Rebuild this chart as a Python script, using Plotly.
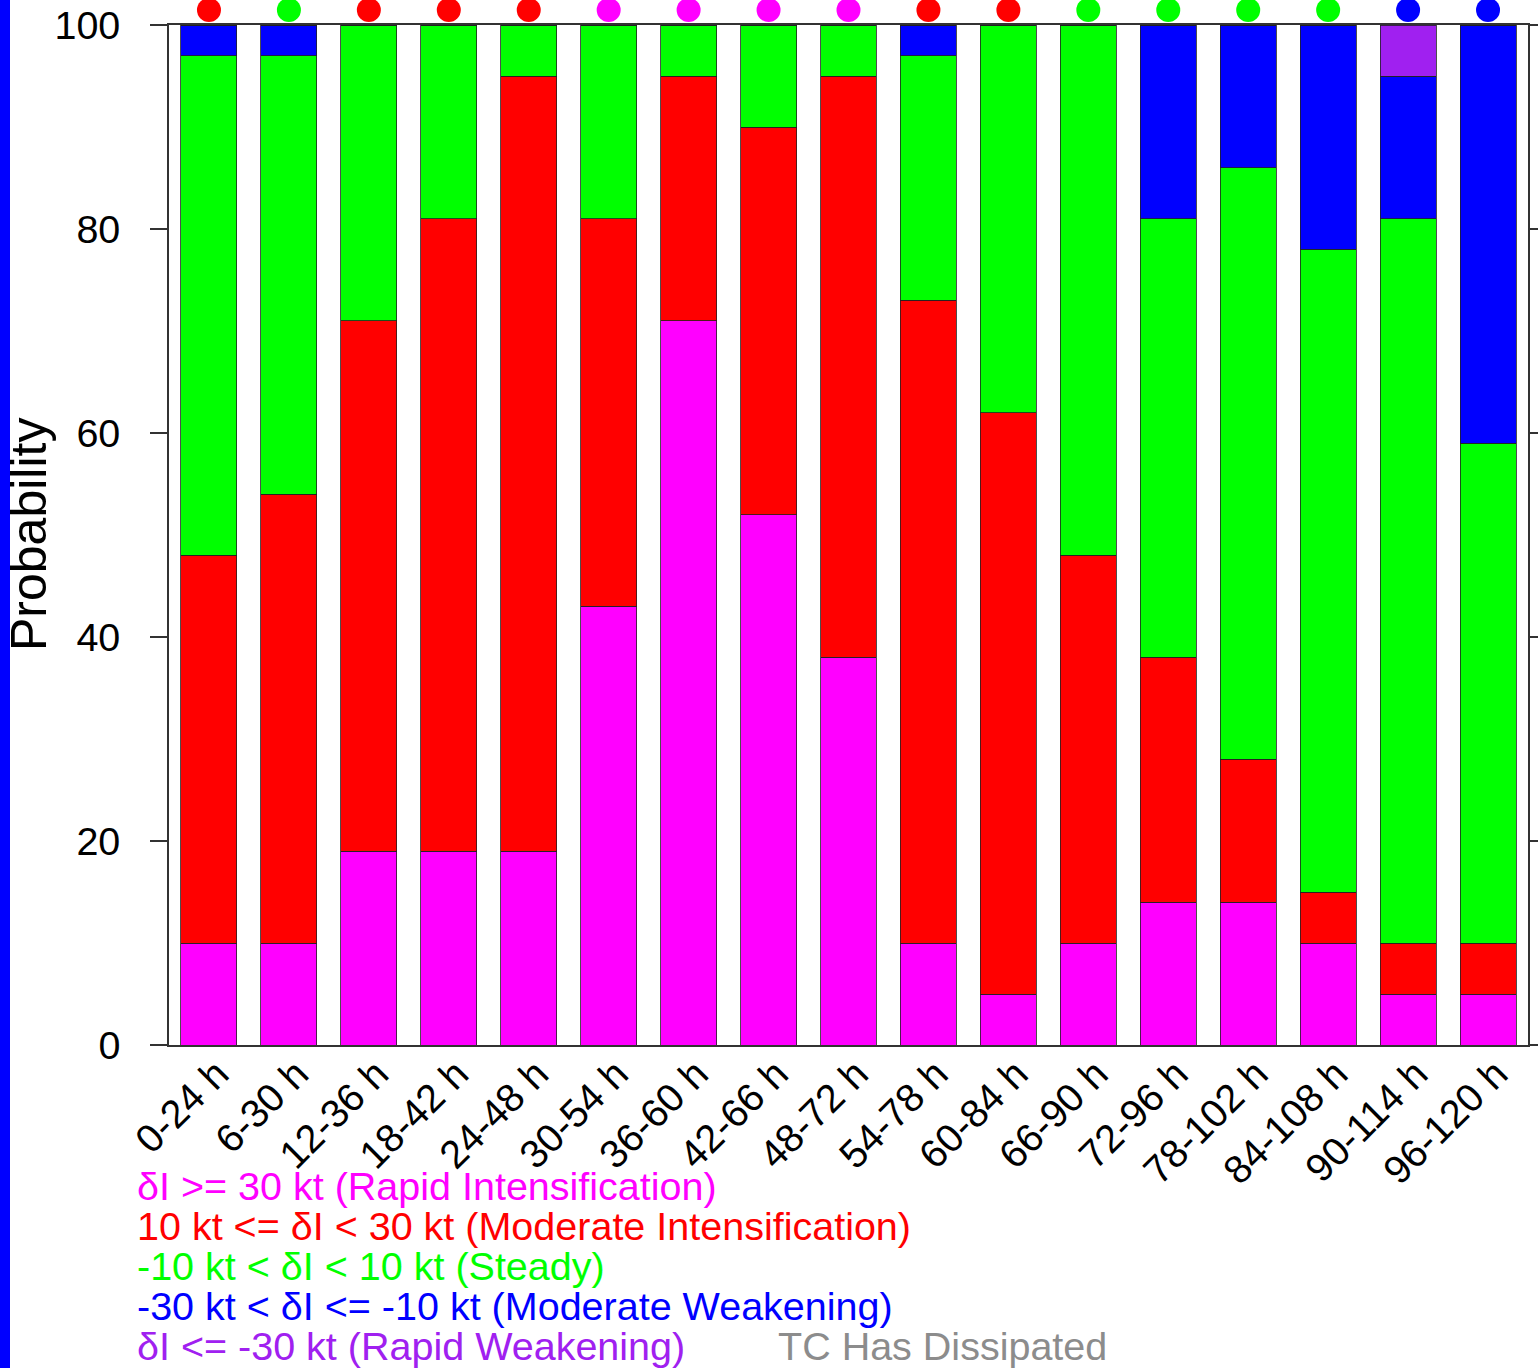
import plotly.graph_objects as go

# Forecast intensity-change probabilities (%) for each 24-h window
periods = ["0-24 h", "6-30 h", "12-36 h", "18-42 h", "24-48 h", "30-54 h",
           "36-60 h", "42-66 h", "48-72 h", "54-78 h", "60-84 h", "66-90 h",
           "72-96 h", "78-102 h", "84-108 h", "90-114 h", "96-120 h"]

rapid_int = [10, 10, 19, 19, 19, 43, 71, 52, 38, 10, 5, 10, 14, 14, 10, 5, 5]
moderate_int = [38, 44, 52, 62, 76, 38, 24, 38, 57, 63, 57, 38, 24, 14, 5, 5, 5]
steady = [49, 43, 29, 19, 5, 19, 5, 10, 5, 24, 38, 52, 43, 58, 63, 71, 49]
moderate_weak = [3, 3, 0, 0, 0, 0, 0, 0, 0, 3, 0, 0, 19, 14, 22, 14, 41]
rapid_weak = [0, 0, 0, 0, 0, 0, 0, 0, 0, 0, 0, 0, 0, 0, 0, 5, 0]

# Category marked above each bar
marked_category = ["MI", "ST", "MI", "MI", "MI", "RI", "RI", "RI", "RI", "MI",
                   "MI", "ST", "ST", "ST", "ST", "MW", "MW"]

category_colors = {"RI": "#FF00FF", "MI": "#FF0000", "ST": "#00FF00",
                   "MW": "#0000FF", "RW": "#A020F0"}

legend_lines = [
    ("δI >= 30 kt (Rapid Intensification)", category_colors["RI"]),
    ("10 kt <= δI < 30 kt (Moderate Intensification)", category_colors["MI"]),
    ("-10 kt < δI < 10 kt (Steady)", category_colors["ST"]),
    ("-30 kt < δI <= -10 kt (Moderate Weakening)", category_colors["MW"]),
    ("δI <= -30 kt (Rapid Weakening)", category_colors["RW"]),
]
dissipated_label = "TC Has Dissipated"

FONT = "Liberation Sans, Arial, Helvetica, sans-serif"
W, H = 1538, 1368
L, R, T, B = 169, 10, 0, 323
PW, PH = W - L - R, H - T - B      # plotting region (includes strip above the frame)
FRAME_TOP = 25                      # pixel row of the 100 % line
Y_DOMAIN_TOP = (PH - FRAME_TOP) / PH
Y_MAX = 100.0
DOT_Y = 101.47                      # dot row, in probability units above the frame


def px_x(x):
    return (x - L) / PW


def px_y(y):
    return (H - B - y) / PH


fig = go.Figure()

series = [(rapid_int, "RI"), (moderate_int, "MI"), (steady, "ST"),
          (moderate_weak, "MW"), (rapid_weak, "RW")]
for vals, key in series:
    fig.add_trace(go.Bar(
        x=periods, y=vals,
        marker=dict(color=category_colors[key], line=dict(color="#222222", width=0.8)),
        showlegend=False, hoverinfo="skip",
    ))

# Dots above the plot frame, on a hidden axis sharing the probability scale
fig.add_trace(go.Scatter(
    x=periods, y=[DOT_Y] * len(periods), mode="markers", yaxis="y2",
    marker=dict(size=24, color=[category_colors[c] for c in marked_category],
                line=dict(width=0)),
    cliponaxis=False, showlegend=False, hoverinfo="skip",
))

annotations = []
y0 = 1186
for i, (txt, col) in enumerate(legend_lines):
    annotations.append(dict(
        text=txt, x=px_x(135), y=px_y(y0 + 40 * i), xref="paper", yref="paper",
        xanchor="left", yanchor="middle", showarrow=False,
        font=dict(family=FONT, size=39.5, color=col),
    ))
annotations.append(dict(
    text=dissipated_label, x=px_x(776), y=px_y(y0 + 160), xref="paper", yref="paper",
    xanchor="left", yanchor="middle", showarrow=False,
    font=dict(family=FONT, size=39.5, color="#8C8C8C"),
))
annotations.append(dict(
    text="Probability", x=px_x(29), y=px_y(535), xref="paper", yref="paper",
    xanchor="center", yanchor="middle", textangle=-90, showarrow=False,
    font=dict(family=FONT, size=50, color="black"),
))

fig.update_layout(
    width=W, height=H,
    margin=dict(l=L, r=R, t=T, b=B, pad=0, autoexpand=False),
    barmode="stack", bargap=0.3,
    plot_bgcolor="rgba(0,0,0,0)", paper_bgcolor="white",
    font=dict(family=FONT, size=39.5, color="black"),
    annotations=annotations,
    shapes=[dict(type="rect", xref="paper", yref="paper",
                 x0=px_x(0), x1=px_x(10), y0=px_y(H), y1=px_y(0),
                 fillcolor="#0000FF", line=dict(width=0), layer="below")],
    yaxis2=dict(domain=[0, 1], anchor="x", range=[0, Y_MAX / Y_DOMAIN_TOP],
                visible=False, fixedrange=True, automargin=False),
)
fig.update_xaxes(
    range=[-0.5, 16.5], tickangle=-45, showgrid=False, zeroline=False,
    showline=True, linecolor="#333333", linewidth=1.5, mirror=True,
    ticks="", tickfont=dict(family=FONT, size=39.5, color="black"),
    ticklabelstandoff=-12, ticklabelshift=8, automargin=False,
)
fig.update_layout(yaxis=dict(
    domain=[0, Y_DOMAIN_TOP],
    range=[0, Y_MAX], tickvals=[0, 20, 40, 60, 80, 100], showgrid=False, zeroline=False,
    showline=True, linecolor="#333333", linewidth=1.5, mirror="ticks",
    ticks="outside", ticklen=17, tickwidth=1.5, tickcolor="#333333",
    tickfont=dict(family=FONT, size=39.5, color="black"),
    ticklabelstandoff=22, automargin=False,
))

fig.write_html("out.html")
